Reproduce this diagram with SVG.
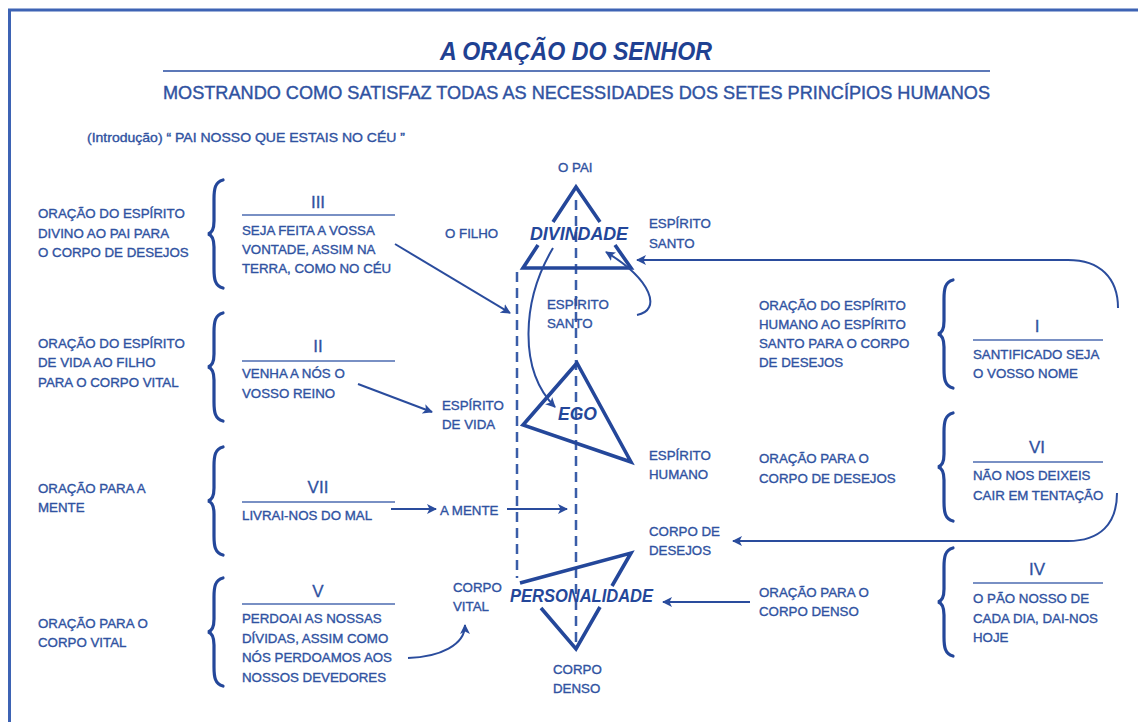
<svg xmlns="http://www.w3.org/2000/svg" width="1138" height="722" viewBox="0 0 1138 722">
<style>
.t{font-family:"Liberation Sans",Arial,sans-serif;font-size:13.3px;fill:#2f52a1;stroke:#2f52a1;stroke-width:0.35}
.num{font-family:"Liberation Sans",Arial,sans-serif;font-size:17px;fill:#2f52a1;stroke:#2f52a1;stroke-width:0.3;text-anchor:middle}
.big{font-family:"Liberation Sans",Arial,sans-serif;font-size:17.5px;font-weight:bold;font-style:italic;fill:#24479a}
.ul{stroke:#4d6bb0;stroke-width:1.5;fill:none}
.br{stroke:#24479a;stroke-width:3.2;fill:none;stroke-linecap:round}
.tri{stroke:#24479a;stroke-width:3.6;fill:none;stroke-linejoin:miter}
.dash{stroke:#3a5da8;stroke-width:2.5;fill:none;stroke-dasharray:10,6}
.ar{stroke:#2a4c9d;stroke-width:2;fill:none}
</style>
<defs>
<marker id="ah" viewBox="0 0 10 10" refX="9" refY="5" markerWidth="5" markerHeight="5" orient="auto" markerUnits="strokeWidth">
<path d="M0,0 L10,5 L0,10 L2.5,5 Z" fill="#2a4c9d"/>
</marker>
<path id="brace" d="M15,-54 C7,-52 6,-45 6,-35 L6,-13 C6,-5 4,-1 0,0 C4,1 6,5 6,13 L6,35 C6,45 7,52 15,54"/>
</defs>
<rect x="0" y="0" width="1138" height="722" fill="#ffffff"/>
<g id="frame">
<line x1="8" y1="10" x2="1138" y2="10" stroke="#3d63b4" stroke-width="3"/>
<line x1="9.5" y1="9" x2="9.5" y2="722" stroke="#3d63b4" stroke-width="3"/>
</g>
<g id="header">
<text x="576" y="60" text-anchor="middle" textLength="272" lengthAdjust="spacingAndGlyphs" style="font-family:'Liberation Sans',Arial,sans-serif;font-size:25px;font-weight:bold;font-style:italic;fill:#1f4192">A ORAÇÃO DO SENHOR</text>
<line x1="163" y1="71" x2="990" y2="71" stroke="#5c78b8" stroke-width="2"/>
<text x="163" y="99" textLength="827" lengthAdjust="spacingAndGlyphs" style="font-family:'Liberation Sans',Arial,sans-serif;font-size:18px;fill:#2f52a1;stroke:#2f52a1;stroke-width:0.4">MOSTRANDO COMO SATISFAZ TODAS AS NECESSIDADES DOS SETES PRINCÍPIOS HUMANOS</text>
<text x="87" y="142" textLength="318" lengthAdjust="spacingAndGlyphs" class="t" style="font-size:12.5px">(Introdução) “ PAI NOSSO QUE ESTAIS NO CÉU ”</text>
</g>
<g id="group-III">
<text class="t" x="38" y="218">ORAÇÃO DO ESPÍRITO</text>
<text class="t" x="38" y="238">DIVINO AO PAI PARA</text>
<text class="t" x="38" y="257">O CORPO DE DESEJOS</text>
<use href="#brace" class="br" transform="translate(208,234)"/>
<text class="num" x="318" y="208">III</text>
<line class="ul" x1="242" y1="215" x2="395" y2="215"/>
<text class="t" x="242" y="235">SEJA FEITA A VOSSA</text>
<text class="t" x="242" y="254">VONTADE, ASSIM NA</text>
<text class="t" x="242" y="273">TERRA, COMO NO CÉU</text>
</g>
<g id="group-II">
<text class="t" x="38" y="348">ORAÇÃO DO ESPÍRITO</text>
<text class="t" x="38" y="367">DE VIDA AO FILHO</text>
<text class="t" x="38" y="387">PARA O CORPO VITAL</text>
<use href="#brace" class="br" transform="translate(208,367)"/>
<text class="num" x="318" y="352">II</text>
<line class="ul" x1="242" y1="361" x2="395" y2="361"/>
<text class="t" x="242" y="378">VENHA A NÓS O</text>
<text class="t" x="242" y="398">VOSSO REINO</text>
</g>
<g id="group-VII">
<text class="t" x="38" y="493">ORAÇÃO PARA A</text>
<text class="t" x="38" y="512">MENTE</text>
<use href="#brace" class="br" transform="translate(208,501)"/>
<text class="num" x="318" y="493">VII</text>
<line class="ul" x1="242" y1="502" x2="395" y2="502"/>
<text class="t" x="242" y="520">LIVRAI-NOS DO MAL</text>
</g>
<g id="group-V">
<text class="t" x="38" y="628">ORAÇÃO PARA O</text>
<text class="t" x="38" y="647">CORPO VITAL</text>
<use href="#brace" class="br" transform="translate(208,632)"/>
<text class="num" x="318" y="597">V</text>
<line class="ul" x1="242" y1="604" x2="395" y2="604"/>
<text class="t" x="242" y="623">PERDOAI AS NOSSAS</text>
<text class="t" x="242" y="643">DÍVIDAS, ASSIM COMO</text>
<text class="t" x="242" y="662">NÓS PERDOAMOS AOS</text>
<text class="t" x="242" y="682">NOSSOS DEVEDORES</text>
</g>
<g id="group-I">
<text class="t" x="759" y="310">ORAÇÃO DO ESPÍRITO</text>
<text class="t" x="759" y="329">HUMANO AO ESPÍRITO</text>
<text class="t" x="759" y="348">SANTO PARA O CORPO</text>
<text class="t" x="759" y="367">DE DESEJOS</text>
<use href="#brace" class="br" transform="translate(938,334)"/>
<text class="num" x="1037" y="332">I</text>
<line class="ul" x1="973" y1="340" x2="1103" y2="340"/>
<text class="t" x="973" y="359">SANTIFICADO SEJA</text>
<text class="t" x="973" y="378">O VOSSO NOME</text>
</g>
<g id="group-VI">
<text class="t" x="759" y="463">ORAÇÃO PARA O</text>
<text class="t" x="759" y="483">CORPO DE DESEJOS</text>
<use href="#brace" class="br" transform="translate(938,467)"/>
<text class="num" x="1037" y="453">VI</text>
<line class="ul" x1="973" y1="462" x2="1103" y2="462"/>
<text class="t" x="973" y="480">NÃO NOS DEIXEIS</text>
<text class="t" x="973" y="500">CAIR EM TENTAÇÃO</text>
</g>
<g id="group-IV">
<text class="t" x="759" y="597">ORAÇÃO PARA O</text>
<text class="t" x="759" y="616">CORPO DENSO</text>
<use href="#brace" class="br" transform="translate(938,602)"/>
<text class="num" x="1037" y="575">IV</text>
<line class="ul" x1="973" y1="583" x2="1103" y2="583"/>
<text class="t" x="973" y="603">O PÃO NOSSO DE</text>
<text class="t" x="973" y="623">CADA DIA, DAI-NOS</text>
<text class="t" x="973" y="642">HOJE</text>
</g>
<g id="axes">
<line class="dash" x1="576" y1="200" x2="576" y2="648"/>
<line class="dash" x1="517" y1="272" x2="517" y2="578"/>
</g>
<g id="divindade">
<path class="tri" d="M553,222 L576,187 L600,222 M538,245 L523,268 L631,268 L615,245"/>
<text class="big" x="530" y="240" textLength="98" lengthAdjust="spacingAndGlyphs">DIVINDADE</text>
<text class="t" x="558" y="172">O PAI</text>
<text class="t" x="445" y="238">O FILHO</text>
<text class="t" x="649" y="228">ESPÍRITO</text>
<text class="t" x="649" y="248">SANTO</text>
</g>
<g id="ego">
<path class="tri" d="M577,363 L631,462 L523,425 Z"/>
<text class="big" x="558" y="420">EGO</text>
<text class="t" x="547" y="309">ESPÍRITO</text>
<text class="t" x="547" y="328">SANTO</text>
<text class="t" x="442" y="410">ESPÍRITO</text>
<text class="t" x="442" y="429">DE VIDA</text>
<text class="t" x="649" y="460">ESPÍRITO</text>
<text class="t" x="649" y="479">HUMANO</text>
</g>
<g id="mente">
<text class="t" x="440" y="515">A MENTE</text>
</g>
<g id="personalidade">
<path class="tri" d="M520,583 L631,553 L612,586 M600,607 L576,649 L541,608"/>
<text class="big" x="510" y="602" textLength="143" lengthAdjust="spacingAndGlyphs">PERSONALIDADE</text>
<text class="t" x="649" y="536">CORPO DE</text>
<text class="t" x="649" y="555">DESEJOS</text>
<text class="t" x="453" y="592">CORPO</text>
<text class="t" x="453" y="611">VITAL</text>
<text class="t" x="553" y="674">CORPO</text>
<text class="t" x="553" y="693">DENSO</text>
</g>
<g id="connectors">
<line class="ar" x1="395" y1="244" x2="510" y2="313" marker-end="url(#ah)"/>
<line class="ar" x1="358" y1="384" x2="432" y2="412" marker-end="url(#ah)"/>
<line class="ar" x1="391" y1="509" x2="436" y2="509" marker-end="url(#ah)"/>
<line class="ar" x1="507" y1="509" x2="567" y2="509" marker-end="url(#ah)"/>
<path class="ar" d="M408,658 C440,657 465,645 465,625" marker-end="url(#ah)"/>
<path class="ar" d="M1118,308 C1118,278 1100,260 1068,260 L637,260" marker-end="url(#ah)"/>
<path class="ar" d="M1117,493 C1117,524 1100,541 1068,541 L733,541" marker-end="url(#ah)"/>
<line class="ar" x1="750" y1="602" x2="663" y2="602" marker-end="url(#ah)"/>
<path class="ar" d="M553,248 C522,300 518,370 555,407" marker-end="url(#ah)"/>
<path class="ar" d="M637,315 C662,310 652,280 606,252" marker-end="url(#ah)"/>
</g>
</svg>
